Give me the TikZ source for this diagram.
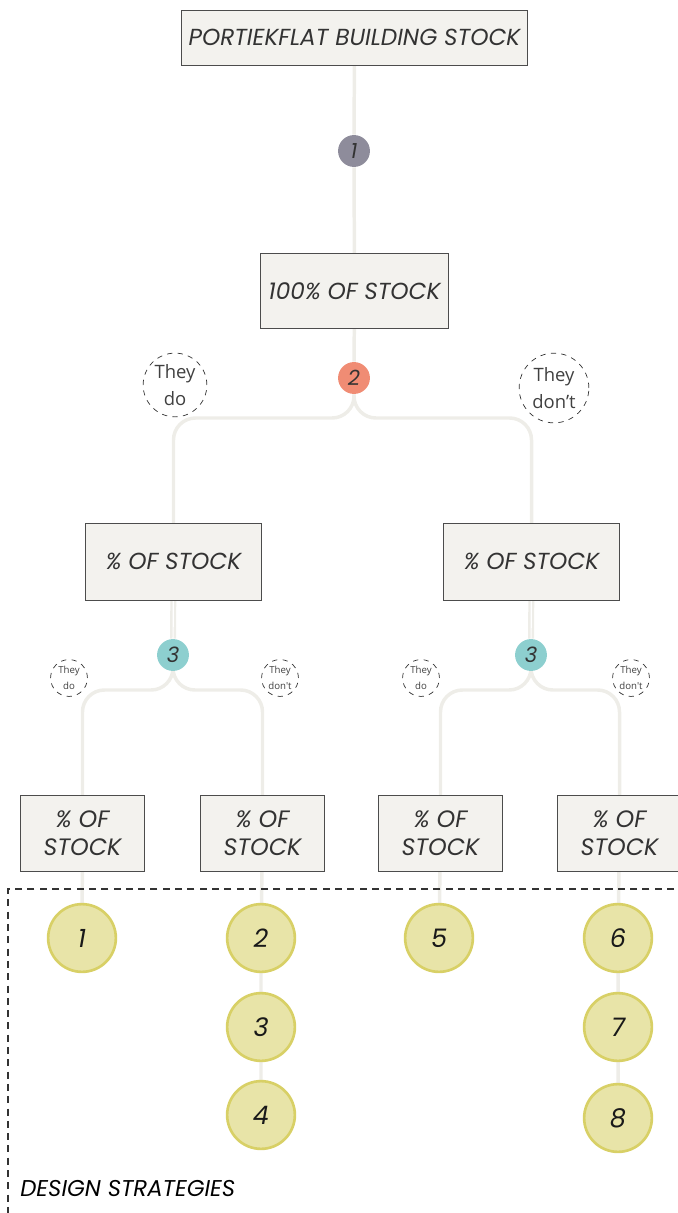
\documentclass[tikz,border=0pt]{standalone}
\usepackage{fontspec}
\setmainfont{Poppins}
\newfontfamily\notefont{Open Sans}
\usetikzlibrary{positioning, backgrounds}

\definecolor{boxfill}{HTML}{F3F2EE}
\definecolor{linkgray}{HTML}{EEEDE8}
\definecolor{stepone}{HTML}{8E8C9B}
\definecolor{steptwo}{HTML}{F08C74}
\definecolor{stepthree}{HTML}{8DCFCF}
\definecolor{stratfill}{HTML}{E8E4A8}
\definecolor{stratline}{HTML}{D8D066}

% one pixel of the layout grid
\newcommand{\pxu}{*0.5669pt}

\tikzset{
  stockbox/.style={draw=black!70, fill=boxfill, inner sep=0pt, align=center,
    text=black!80, font=\fontsize{13.2}{14}\selectfont\itshape},
  stepdot/.style={circle, minimum size=32\pxu, inner sep=0pt, text=black!80,
    font=\fontsize{12}{12}\selectfont\itshape},
  answer/.style={circle, draw=black!80, dashed, inner sep=0pt, align=center,
    text=black!75},
  strategy/.style={circle, fill=stratfill, draw=stratline, line width=1.5pt,
    minimum size=68\pxu, inner sep=0pt, text=black!90,
    font=\fontsize{14.5}{15}\selectfont\itshape},
  link/.style={draw=linkgray, line width=3.5\pxu, rounded corners=22\pxu},
  twinlink/.style={draw=linkgray, line width=2.4\pxu, double=white, double distance=1.2\pxu},
}

\begin{document}
\begin{tikzpicture}[x=0.02cm, y=-0.02cm]
\useasboundingbox (0,0) rectangle (678,1213);

% first level
\node[stockbox, minimum width=347\pxu, minimum height=55\pxu] (stock) at (354.5,37.5) {PORTIEKFLAT BUILDING STOCK};
\node[stepdot, fill=stepone] (s1) at (354,151) {1};
\node[stockbox, minimum width=189\pxu, minimum height=76\pxu] (all) at (354.5,291) {100\% OF STOCK};
\node[stepdot, fill=steptwo] (s2) at (354,378) {2};
\node[answer, minimum size=64\pxu, font=\notefont\fontsize{10.5}{15}\selectfont] (yes) at (175,385) {They\\do};
\node[answer, minimum size=70\pxu, font=\notefont\fontsize{10.5}{15}\selectfont] (no) at (554,388) {They\\don’t};

% second level
\node[stockbox, minimum width=177\pxu, minimum height=77\pxu] (left) at (173.5,561.5) {\% OF STOCK};
\node[stockbox, minimum width=177\pxu, minimum height=77\pxu] (right) at (531.5,561.5) {\% OF STOCK};
\node[stepdot, fill=stepthree] (s3l) at (173,655) {3};
\node[stepdot, fill=stepthree] (s3r) at (531,655) {3};
\foreach \name/\x/\txt in {ldo/69/They\\do, ldont/280/They\\don't, rdo/421/They\\do, rdont/631/They\\don't}
  \node[answer, minimum size=37\pxu, font=\notefont\fontsize{5.5}{9}\selectfont] (\name) at (\x,678) {\txt};

% third level
\foreach \name/\x in {q1/82.5, q2/262.5, q3/440.5, q4/619.5}
  \node[stockbox, minimum width=125\pxu, minimum height=76\pxu,
    font=\fontsize{13.5}{16}\selectfont\itshape] (\name) at (\x,833) {\% OF\\STOCK};

% design strategies
\node[strategy] (d1) at (82,938) {1};
\node[strategy] (d2) at (261,938) {2};
\node[strategy] (d3) at (261,1027) {3};
\node[strategy] (d4) at (261,1115) {4};
\node[strategy] (d5) at (439,938) {5};
\node[strategy] (d6) at (618,938) {6};
\node[strategy] (d7) at (618,1027) {7};
\node[strategy] (d8) at (618,1118) {8};

\coordinate (frametop) at (8,889);
\coordinate (frameright) at (674,889);
\coordinate (framebottom) at (8,1213);
\draw[black!80, line width=0.6pt, dash pattern=on 4pt off 3pt]
  (frameright) -- (frametop) -- (framebottom);
\node[anchor=base west, font=\fontsize{13}{13}\selectfont\itshape, inner sep=0pt] (label) at (20,1196) {DESIGN STRATEGIES};

% connectors behind the nodes
\begin{pgfonlayer}{background}
  \draw[link] (stock) -- (s1) -- (all) -- (s2);
  \draw[link] (s2) |- (left.north |- 0,418) -- (left.north);
  \draw[link] (s2) |- (right.north |- 0,418) -- (right.north);
  \draw[twinlink] (left) -- (s3l);
  \draw[twinlink] (right) -- (s3r);
  \draw[link] (s3l) |- (q1.north |- 0,690) -- (q1.north);
  \draw[link] (s3l) |- (q2.north |- 0,690) -- (q2.north);
  \draw[link] (s3r) |- (q3.north |- 0,690) -- (q3.north);
  \draw[link] (s3r) |- (q4.north |- 0,690) -- (q4.north);
  \draw[link] (q1) -- (d1);
  \draw[link] (q2) -- (d2) -- (d3) -- (d4);
  \draw[link] (q3) -- (d5);
  \draw[link] (q4) -- (d6) -- (d7) -- (d8);
\end{pgfonlayer}
\end{tikzpicture}
\end{document}
